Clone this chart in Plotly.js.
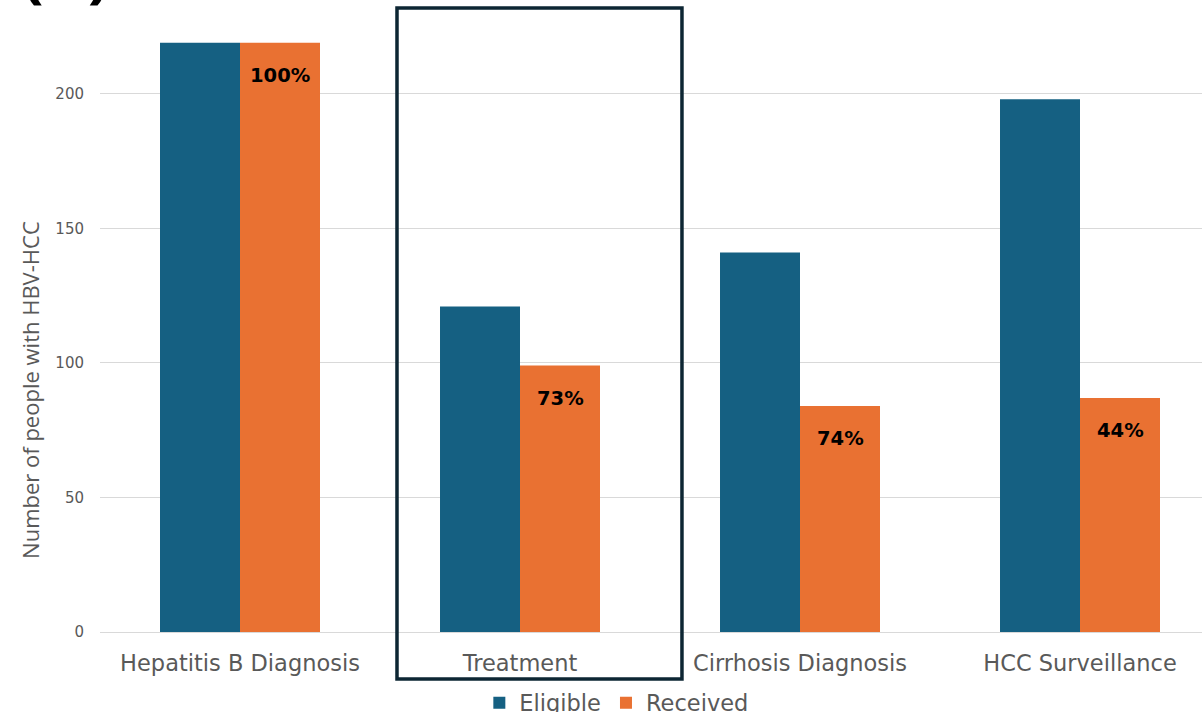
<!DOCTYPE html>
<html>
<head>
<meta charset="utf-8">
<script src="https://cdn.plot.ly/plotly-3.0.1.min.js"></script>
<style>
html,body{margin:0;padding:0;overflow:hidden;background:#fff;}
#chart{width:1202px;height:712px;}
</style>
</head>
<body>
<div id="chart"></div>
<script>
const categories = ["Hepatitis B Diagnosis", "Treatment", "Cirrhosis Diagnosis", "HCC Surveillance"];
const eligible = [219, 121, 141, 198];
const received = [219, 99, 84, 87];
const pctLabels = ["100%", "73%", "74%", "44%"];
const yTicks = [0, 50, 100, 150, 200];
const yTitle = "Number of people with HBV-HCC";

const font = "DejaVu Sans, sans-serif";
const titleFont = "Open Sans, sans-serif";
const grey = "#595959";

const traces = [
  {type: "bar", name: "Eligible", x: categories, y: eligible,
   marker: {color: "#156082", line: {width: 0}}, hoverinfo: "skip"},
  {type: "bar", name: "Received", x: categories, y: received,
   marker: {color: "#E97132", line: {width: 0}}, hoverinfo: "skip"}
];

const annotations = categories.map((c, i) => ({
  x: c, y: received[i], xref: "x", yref: "y", xshift: 40, yshift: -19,
  yanchor: "top", xanchor: "center", showarrow: false,
  text: "<b>" + pctLabels[i] + "</b>",
  font: {family: font, size: 19.5, color: "#000"}
}));
annotations.push({
  xref: "paper", yref: "paper", x: -0.0726, y: 1.041, xanchor: "left", yanchor: "bottom",
  showarrow: false, text: "<b>(A)</b>", font: {family: titleFont, size: 64, color: "#000"}
});
annotations.push({
  xref: "paper", yref: "paper", x: -0.0635, y: 0.409, xanchor: "center", yanchor: "middle",
  textangle: -90, showarrow: false, text: yTitle,
  font: {family: titleFont, size: 22, color: grey}
});

const layout = {
  width: 1202, height: 712,
  margin: {l: 100, r: 0, t: 40, b: 80, autoexpand: false},
  paper_bgcolor: "#fff", plot_bgcolor: "#fff",
  barmode: "group", bargap: 0.4286, bargroupgap: 0,
  showlegend: true,
  legend: {orientation: "h", x: 0.469, xanchor: "center", xref: "paper",
    yref: "container", y: 0.0126, yanchor: "middle",
    font: {family: font, size: 22.5, color: grey}, itemclick: false, traceorder: "normal"},
  xaxis: {range: [-0.5, 3.4357], showgrid: false, zeroline: false, showline: false,
    ticks: "", tickfont: {family: font, size: 22.5, color: grey}, ticklabelstandoff: 15},
  yaxis: {range: [0, 220], tickvals: yTicks, showgrid: true, gridcolor: "#d9d9d9", gridwidth: 1,
    zeroline: true, zerolinecolor: "#d9d9d9", zerolinewidth: 1, showline: false, ticks: "",
    tickfont: {family: font, size: 15, color: grey}, ticklabelstandoff: 15},
  shapes: [{type: "rect", xref: "paper", yref: "paper",
    x0: 0.2695, x1: 0.5281, y0: -0.0794, y1: 1.054,
    line: {color: "#0d2633", width: 3.5}, fillcolor: "rgba(0,0,0,0)", layer: "above"}],
  annotations: annotations
};

Plotly.newPlot("chart", traces, layout, {displayModeBar: false, staticPlot: true});
</script>
</body>
</html>
